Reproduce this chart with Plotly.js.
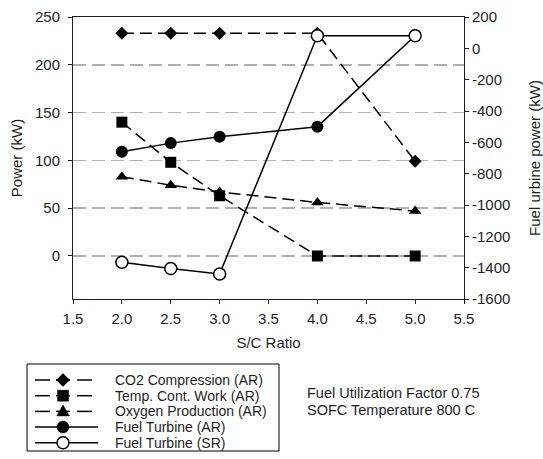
<!DOCTYPE html>
<html><head><meta charset="utf-8">
<script src="https://cdn.plot.ly/plotly-3.0.1.min.js"></script>
<style>html,body{margin:0;padding:0;background:#fff}</style>
</head><body><div id="chart" style="width:543px;height:459px"></div>
<script>
// ---- data ----
const scRatio = [2.0, 2.5, 3.0, 4.0, 5.0];
const co2Compression = [233, 233, 233, 233, 99];
const tempContWork = [140, 98, 63, 0, 0];
const oxygenProduction = [83, 74, 67, 56, 47];
const fuelTurbineAR = [-660, -605, -565, -500, 80];
const fuelTurbineSR = [-1365, -1405, -1440, 80, 80];
const seriesNames = ['CO2 Compression (AR)', 'Temp. Cont. Work (AR)', 'Oxygen Production (AR)', 'Fuel Turbine (AR)', 'Fuel Turbine (SR)'];
const xTickVals = [1.5, 2.0, 2.5, 3.0, 3.5, 4.0, 4.5, 5.0, 5.5];
const xTickText = ['1.5', '2.0', '2.5', '3.0', '3.5', '4.0', '4.5', '5.0', '5.5'];
const leftTickVals = [0, 50, 100, 150, 200, 250];
const rightTickVals = [200, 0, -200, -400, -600, -800, -1000, -1200, -1400, -1600];
const rightTickText = ['200', '0', '-200', '-400', '-600', '-800', '-1000', '-1200', '-1400', '-1600'];
const noteLines = ['Fuel Utilization Factor 0.75', 'SOFC Temperature 800 C'];

// ---- geometry / style ----
const W = 543, H = 459, ML = 73, MR = 79, MT = 17, MB = 160;
const PW = W - ML - MR, PH = H - MT - MB;
const px2x = px => (px - ML) / PW;
const py2y = py => (H - MB - py) / PH;
const FONT = 'Liberation Sans, Arial, sans-serif';
const INK = '#1e1e1e';
const DASH = '12px,6px';

const styles = [
  {dash: DASH, marker: {symbol: 'diamond', size: 10, color: '#000'}, yaxis: 'y'},
  {dash: DASH, marker: {symbol: 'square', size: 11, color: '#000'}, yaxis: 'y'},
  {dash: DASH, marker: {symbol: 'triangle-up', size: 11, color: '#000'}, yaxis: 'y'},
  {dash: 'solid', marker: {symbol: 'circle', size: 12, color: '#000'}, yaxis: 'y2'},
  {dash: 'solid', marker: {symbol: 'circle', size: 12, color: '#fff', line: {color: '#000', width: 1.5}}, yaxis: 'y2'}
];
const seriesData = [co2Compression, tempContWork, oxygenProduction, fuelTurbineAR, fuelTurbineSR];
const drawOrder = [0, 2, 1, 3, 4];

const traces = drawOrder.map(i => ({
  type: 'scatter', mode: 'lines+markers', name: seriesNames[i],
  x: scRatio, y: seriesData[i], yaxis: styles[i].yaxis,
  line: {color: '#000', width: 1.5, dash: styles[i].dash},
  marker: styles[i].marker, showlegend: false, cliponaxis: false
}));

// ---- manual legend (chrome) ----
const legLeft = 27, legRight = 279, legTop = 364, legBottom = 451;
const rowTop = 380, rowStep = 15.7, symCx = 63, textX = 114;
const markerPaths = [
  'M0,6.5 L6.5,0 L0,-6.5 L-6.5,0 Z',
  'M-5.5,-5.5 L5.5,-5.5 L5.5,5.5 L-5.5,5.5 Z',
  'M-6.3,-4.5 L6.3,-4.5 L0,6.5 Z'
];
const shapes = [{type: 'rect', xref: 'paper', yref: 'paper',
  x0: px2x(legLeft), x1: px2x(legRight), y0: py2y(legBottom), y1: py2y(legTop),
  line: {color: '#000', width: 1}, fillcolor: 'rgba(0,0,0,0)'}];
const annotations = [];
seriesNames.forEach((nm, i) => {
  const ry = py2y(rowTop + rowStep * i);
  const segs = styles[i].dash === 'solid' ? [[35, 98]] : [[35, 50], [56, 70], [77, 92]];
  segs.forEach(s => shapes.push({type: 'line', xref: 'paper', yref: 'paper',
    x0: px2x(s[0]), x1: px2x(s[1]), y0: ry, y1: ry, line: {color: '#000', width: 1.5}}));
  const filled = i !== 4;
  const base = {xref: 'paper', yref: 'paper', xsizemode: 'pixel', ysizemode: 'pixel',
    xanchor: px2x(symCx), yanchor: ry,
    fillcolor: filled ? '#000' : '#fff', line: {color: '#000', width: filled ? 0.5 : 1.5}};
  if (i < 3) {
    shapes.push(Object.assign({type: 'path', path: markerPaths[i]}, base));
  } else {
    shapes.push(Object.assign({type: 'circle', x0: -6, x1: 6, y0: -6, y1: 6}, base));
  }
  annotations.push({xref: 'paper', yref: 'paper', x: px2x(textX), y: ry, xanchor: 'left', yanchor: 'middle',
    text: nm, showarrow: false, borderpad: 0, font: {family: FONT, size: 14, color: INK}});
});
noteLines.forEach((t, i) => annotations.push({xref: 'paper', yref: 'paper', x: px2x(306), y: py2y(393 + 16.5 * i),
  xanchor: 'left', yanchor: 'middle', text: t, showarrow: false, borderpad: 0,
  font: {family: FONT, size: 14.5, color: INK}}));

const axisCommon = {ticks: 'outside', ticklen: 4, tickwidth: 1, tickcolor: INK, showline: true, linecolor: INK,
  linewidth: 1, zeroline: false, tickfont: {family: FONT, size: 15, color: INK}, automargin: false};

const layout = {
  width: W, height: H, margin: {l: ML, r: MR, t: MT, b: MB, pad: 0},
  paper_bgcolor: '#fff', plot_bgcolor: '#fff', showlegend: false,
  font: {family: FONT, color: INK, size: 15},
  xaxis: Object.assign({}, axisCommon, {range: [1.5, 5.5], tickvals: xTickVals, ticktext: xTickText,
    ticklabelstandoff: 2, mirror: true, showgrid: false,
    title: {text: 'S/C Ratio', font: {family: FONT, size: 15, color: INK}, standoff: 11}}),
  yaxis: Object.assign({}, axisCommon, {range: [-45, 250], tickvals: leftTickVals, showgrid: true,
    ticklabelstandoff: 5, gridcolor: '#b0b0b0', gridwidth: 1.5, griddash: '13px,6px',
    title: {text: 'Power (kW)', font: {family: FONT, size: 15, color: INK}, standoff: 8}}),
  yaxis2: Object.assign({}, axisCommon, {range: [-1600, 200], overlaying: 'y', side: 'right',
    tickvals: rightTickVals, ticktext: rightTickText, showgrid: false, ticklabelstandoff: 0,
    title: {text: 'Fuel urbine power (kW)', font: {family: FONT, size: 15, color: INK}, standoff: 20}}),
  shapes: shapes, annotations: annotations
};
Plotly.newPlot('chart', traces, layout, {displayModeBar: false, staticPlot: true});
</script></body></html>
